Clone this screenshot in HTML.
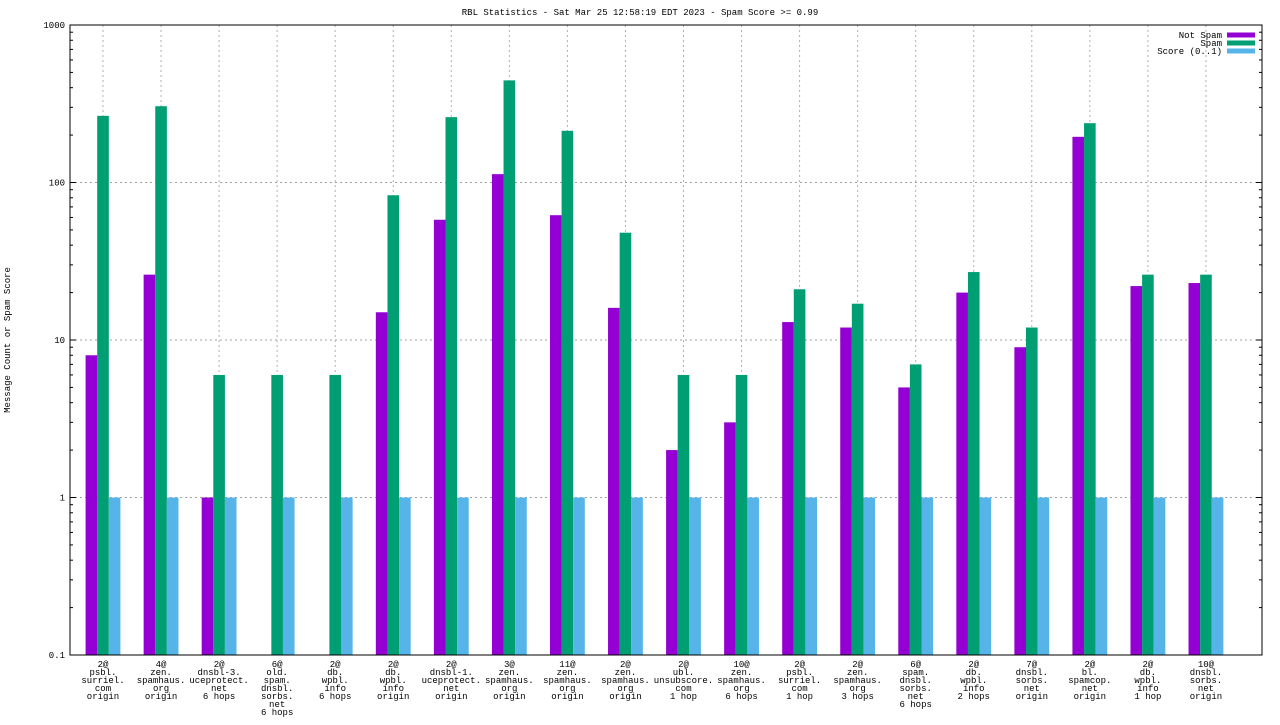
<!DOCTYPE html>
<html><head><meta charset="utf-8"><style>
body{margin:0;background:#fff;}
svg text{font-family:"Liberation Mono","DejaVu Sans Mono",monospace;font-size:9px;fill:#000;}
</style></head><body>
<svg id="chart" width="1280" height="720" xmlns="http://www.w3.org/2000/svg"></svg>
<script>
const categories=[
["2@","psbl.","surriel.","com","origin"],
["4@","zen.","spamhaus.","org","origin"],
["2@","dnsbl-3.","uceprotect.","net","6 hops"],
["6@","old.","spam.","dnsbl.","sorbs.","net","6 hops"],
["2@","db.","wpbl.","info","6 hops"],
["2@","db.","wpbl.","info","origin"],
["2@","dnsbl-1.","uceprotect.","net","origin"],
["3@","zen.","spamhaus.","org","origin"],
["11@","zen.","spamhaus.","org","origin"],
["2@","zen.","spamhaus.","org","origin"],
["2@","ubl.","unsubscore.","com","1 hop"],
["10@","zen.","spamhaus.","org","6 hops"],
["2@","psbl.","surriel.","com","1 hop"],
["2@","zen.","spamhaus.","org","3 hops"],
["6@","spam.","dnsbl.","sorbs.","net","6 hops"],
["2@","db.","wpbl.","info","2 hops"],
["7@","dnsbl.","sorbs.","net","origin"],
["2@","bl.","spamcop.","net","origin"],
["2@","db.","wpbl.","info","1 hop"],
["10@","dnsbl.","sorbs.","net","origin"]];
const notSpam=[8,26,1,0,0,15,58,113,62,16,2,3,13,12,5,20,9,195,22,23];
const spam=[265,305,6,6,6,83,260,445,213,48,6,6,21,17,7,27,12,238,26,26];
const score=[1,1,1,1,1,1,1,1,1,1,1,1,1,1,1,1,1,1,1,1];
const yTicks=[0.1,1,10,100,1000];
const yTickLabels=["0.1","1","10","100","1000"];

const svg=document.getElementById('chart');
const NS="http://www.w3.org/2000/svg";
const L=70,R=1262,T=25,B=655;
const xs=i=>103+i*58.05;
const ys=v=>B-(Math.log10(v)+1)*(B-T)/4;
function mk(tag,a){const e=document.createElementNS(NS,tag);for(const k in a)e.setAttribute(k,a[k]);svg.appendChild(e);return e;}
function txt(x,y,s,anchor){const e=mk('text',{x:x,y:y,'text-anchor':anchor||'middle'});e.textContent=s;return e;}

const t=txt(640,15,"RBL Statistics - Sat Mar 25 12:58:19 EDT 2023 - Spam Score >= 0.99");


const yt=txt(0,0,"Message Count or Spam Score");
yt.setAttribute('transform','translate(10,340) rotate(-90)');



yTicks.forEach((v,i)=>{
  const y=ys(v);
  if(i>0&&i<yTicks.length-1){const g=mk('line',{x1:L,x2:R,y1:y,y2:y,stroke:'#a0a0a0','stroke-dasharray':'2,3','stroke-width':1});
  }
  const lb=txt(L-5,y+3,yTickLabels[i],'end');
  
  
  mk('line',{x1:L,x2:L+6,y1:y,y2:y,stroke:'#000'});
  mk('line',{x1:R,x2:R-6,y1:y,y2:y,stroke:'#000'});
  if(i<yTicks.length-1){for(let m=2;m<10;m++){const yy=ys(v*m);mk('line',{x1:L,x2:L+3,y1:yy,y2:yy,stroke:'#000'});mk('line',{x1:R,x2:R-3,y1:yy,y2:yy,stroke:'#000'});}}
});
categories.forEach((c,i)=>{
  const x=xs(i);
  const g=mk('line',{x1:x,x2:x,y1:T,y2:B,stroke:'#b0b0b0','stroke-dasharray':'2,3','stroke-width':1});
  
  c.forEach((s,j)=>{const e=txt(x,667+j*8,s);
    
    });
});
const series=[[notSpam,'#9400d3',-0.2,'bar-not-spam'],[spam,'#009e73',0,'bar-spam'],[score,'#56b4e9',0.2,'bar-score']];
const bw=0.2*58.05;
series.forEach(([arr,col,off,name])=>{
  arr.forEach((v,i)=>{
    if(v<=0)return;
    const cx=xs(i)+off*58.05;const y=ys(v);
    const r=mk('rect',{x:cx-bw/2,y:y,width:bw,height:B-y,fill:col});
    
    
  });
});
const fr=mk('rect',{x:L,y:T,width:R-L,height:B-T,fill:'none',stroke:'#000','stroke-width':1});

[["Not Spam",'#9400d3'],["Spam",'#009e73'],["Score (0..1)",'#56b4e9']].forEach(([s,c],i)=>{
  const y=35+i*8;
  const e=txt(1222,y+3,s,'end');
  
  
  const r=mk('rect',{x:1227,y:y-2.5,width:28,height:5,fill:c});
  
  
});
</script>
</body></html>
